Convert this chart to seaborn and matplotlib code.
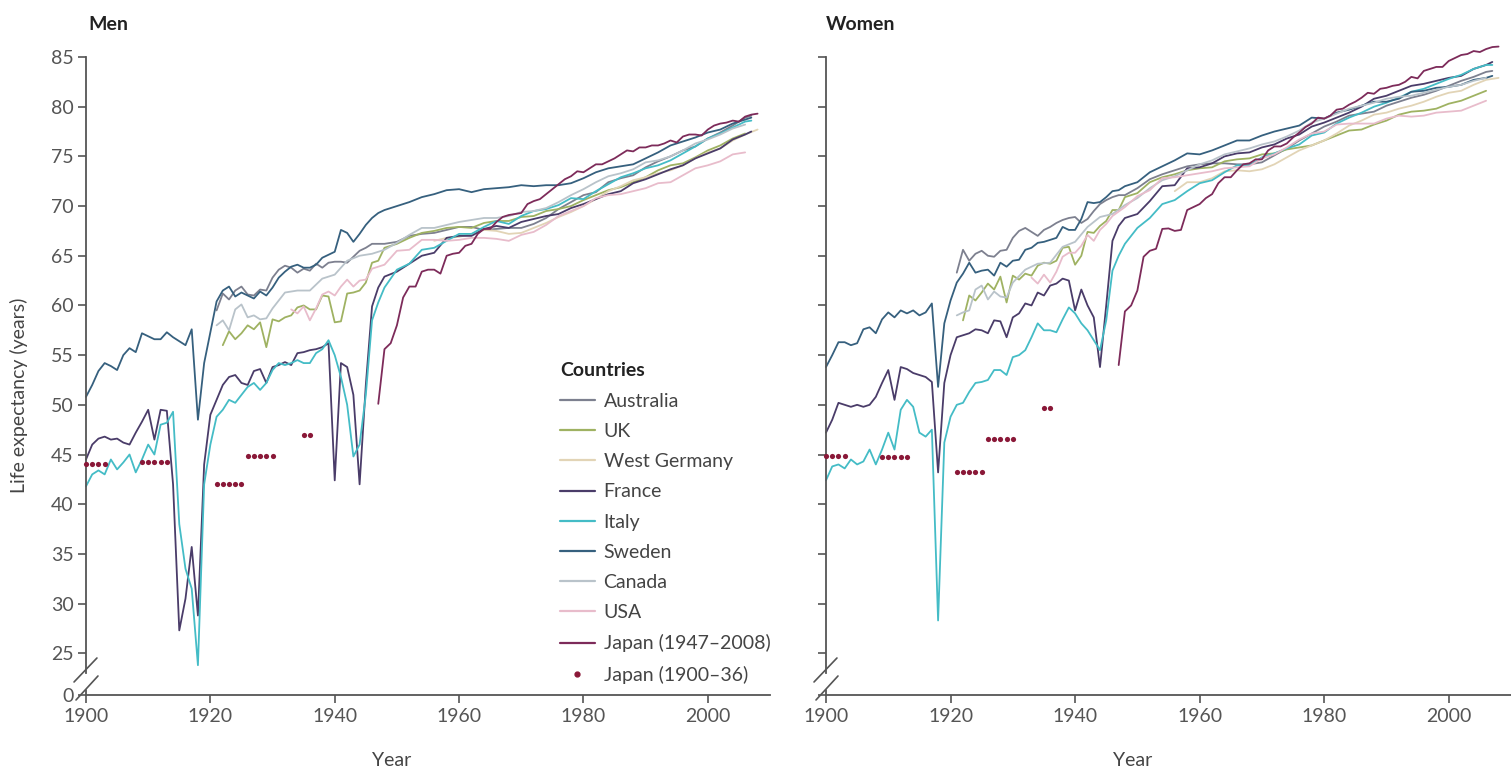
"""
Life expectancy at birth, men and women, nine countries 1900-2008.
"""
import numpy as np
import pandas as pd
import matplotlib
matplotlib.use("Agg")
import matplotlib.pyplot as plt
from matplotlib.lines import Line2D
import seaborn as sns

# ---------------------------------------------------------------- data
# year grids (shared by men and women)
LONG_YEARS = [1900, 1901, 1902, 1903, 1904, 1905, 1906, 1907, 1908, 1909,
              1910, 1911, 1912, 1913, 1914, 1915, 1916, 1917, 1918, 1919,
              1920, 1921, 1922, 1923, 1924, 1925, 1926, 1927, 1928, 1929,
              1930, 1931, 1932, 1933, 1934, 1935, 1936, 1937, 1938, 1939,
              1940, 1941, 1942, 1943, 1944, 1945, 1946, 1947, 1948,
              1950, 1952, 1954, 1956, 1958, 1960, 1962, 1964, 1966, 1968,
              1970, 1972, 1974, 1976, 1978, 1980, 1982, 1984, 1986, 1988,
              1990, 1992, 1994, 1996, 1998, 2000, 2002, 2004, 2006, 2007]
AUS_YEARS = [1921, 1922, 1923, 1924, 1925, 1926, 1927, 1928, 1929,
             1930, 1931, 1932, 1933, 1934, 1935, 1936, 1937, 1938, 1939,
             1940, 1941, 1942, 1943, 1944, 1945, 1946, 1947, 1948,
             1950, 1952, 1954, 1956, 1958, 1960, 1962, 1964, 1966, 1968,
             1970, 1972, 1974, 1976, 1978, 1980, 1982, 1984, 1986, 1988,
             1990, 1992, 1994, 1996, 1998, 2000, 2002, 2004, 2006, 2007]
UK_YEARS = [1922, 1923, 1924, 1925, 1926, 1927, 1928, 1929,
            1930, 1931, 1932, 1933, 1934, 1935, 1936, 1937, 1938, 1939,
            1940, 1941, 1942, 1943, 1944, 1945, 1946, 1947, 1948,
            1950, 1952, 1954, 1956, 1958, 1960, 1962, 1964, 1966, 1968,
            1970, 1972, 1974, 1976, 1978, 1980, 1982, 1984, 1986, 1988,
            1990, 1992, 1994, 1996, 1998, 2000, 2002, 2004, 2006]
CAN_YEARS = [1921, 1922, 1923, 1924, 1925, 1926, 1927, 1928, 1929, 1930,
             1932, 1934, 1936, 1938, 1940, 1942, 1944, 1946, 1948,
             1950, 1952, 1954, 1956, 1958, 1960, 1962, 1964, 1966, 1968,
             1970, 1972, 1974, 1976, 1978, 1980, 1982, 1984, 1986, 1988,
             1990, 1992, 1994, 1996, 1998, 2000, 2002, 2004, 2006]
USA_YEARS = [1933, 1934, 1935, 1936, 1937, 1938, 1939, 1940, 1941, 1942,
             1943, 1944, 1945, 1946, 1948,
             1950, 1952, 1954, 1956, 1958, 1960, 1962, 1964, 1966, 1968,
             1970, 1972, 1974, 1976, 1978, 1980, 1982, 1984, 1986, 1988,
             1990, 1992, 1994, 1996, 1998, 2000, 2002, 2004, 2006]
WG_YEARS = [1956, 1958, 1960, 1962, 1964, 1966, 1968,
            1970, 1972, 1974, 1976, 1978, 1980, 1982, 1984, 1986, 1988,
            1990, 1992, 1994, 1996, 1998, 2000, 2002, 2004, 2006, 2008]
JPN_YEARS = [1947, 1948, 1949,
             1950, 1951, 1952, 1953, 1954, 1955, 1956, 1957, 1958, 1959,
             1960, 1961, 1962, 1963, 1964, 1965, 1966, 1967, 1968, 1969,
             1970, 1971, 1972, 1973, 1974, 1975, 1976, 1977, 1978, 1979,
             1980, 1981, 1982, 1983, 1984, 1985, 1986, 1987, 1988, 1989,
             1990, 1991, 1992, 1993, 1994, 1995, 1996, 1997, 1998, 1999,
             2000, 2001, 2002, 2003, 2004, 2005, 2006, 2007, 2008]

# ---- men
SWE_M = [50.8, 52.0, 53.4, 54.2, 53.9, 53.5, 55.0, 55.7, 55.3, 57.2,
         56.9, 56.6, 56.6, 57.3, 56.8, 56.4, 56.0, 57.6, 48.5, 54.2,
         57.3, 60.4, 61.5, 61.9, 60.9, 61.3, 61.0, 60.7, 61.4, 61.0,
         61.8, 62.8, 63.4, 63.9, 64.1, 63.8, 63.8, 64.1, 64.8, 65.1,
         65.4, 67.6, 67.3, 66.4, 67.2, 68.1, 68.8, 69.3, 69.6,
         70.0, 70.4, 70.9, 71.2, 71.6, 71.7, 71.4, 71.7, 71.8, 71.9,
         72.1, 72.0, 72.1, 72.1, 72.3, 72.8, 73.4, 73.8, 74.0, 74.2,
         74.8, 75.4, 76.1, 76.5, 76.9, 77.4, 77.7, 78.3, 78.7, 78.9]
FRA_M = [44.5, 46.0, 46.6, 46.8, 46.5, 46.6, 46.2, 46.0, 47.2, 48.3,
         49.5, 46.5, 49.5, 49.4, 42.0, 27.3, 30.5, 35.7, 28.8, 44.0,
         49.0, 50.5, 52.0, 52.8, 53.0, 52.2, 52.0, 53.4, 53.6, 52.2,
         53.8, 54.0, 54.3, 54.0, 55.2, 55.3, 55.5, 55.6, 55.8, 56.2,
         42.4, 54.2, 53.8, 51.0, 42.0, 52.0, 59.9, 61.8, 62.9,
         63.4, 64.2, 65.0, 65.3, 66.8, 67.0, 67.0, 67.7, 68.0, 67.8,
         68.4, 68.7, 69.0, 69.2, 69.8, 70.2, 70.7, 71.2, 71.5, 72.3,
         72.7, 73.2, 73.7, 74.1, 74.8, 75.3, 75.8, 76.7, 77.2, 77.5]
ITA_M = [41.8, 43.0, 43.4, 43.0, 44.5, 43.5, 44.2, 45.0, 43.2, 44.5,
         46.0, 45.0, 48.0, 48.2, 49.3, 38.0, 33.5, 31.5, 23.8, 42.0,
         46.0, 48.8, 49.5, 50.5, 50.2, 51.0, 51.8, 52.2, 51.5, 52.2,
         53.5, 54.2, 54.0, 54.2, 54.5, 54.2, 54.2, 55.2, 55.6, 56.5,
         55.0, 52.8, 50.0, 44.8, 46.0, 51.0, 58.5, 60.3, 61.8,
         63.6, 64.2, 65.6, 65.8, 66.5, 67.2, 67.2, 67.9, 68.5, 68.2,
         69.0, 69.5, 69.7, 70.1, 70.8, 70.7, 71.5, 72.2, 72.9, 73.3,
         73.8, 74.1, 74.6, 75.3, 76.0, 76.8, 77.3, 77.9, 78.5, 78.6]
AUS_M = [59.5, 61.2, 60.6, 61.5, 61.9, 61.1, 61.0, 61.6, 61.5,
         62.8, 63.6, 64.0, 63.8, 63.3, 63.7, 63.5, 64.2, 63.8, 64.3,
         64.4, 64.4, 64.3, 64.9, 65.5, 65.8, 66.2, 66.2, 66.2,
         66.4, 67.0, 67.2, 67.3, 67.6, 67.9, 67.9, 67.6, 67.7, 67.8,
         67.8, 68.2, 68.8, 69.7, 70.4, 71.1, 71.4, 72.4, 72.8, 73.1,
         73.9, 74.5, 75.0, 75.6, 76.0, 76.8, 77.4, 78.1, 78.9, 79.1]
UK_M = [56.0, 57.4, 56.6, 57.2, 58.0, 57.6, 58.3, 55.8,
        58.6, 58.4, 58.8, 59.0, 59.8, 60.0, 59.6, 59.6, 61.0, 60.9,
        58.3, 58.4, 61.2, 61.3, 61.5, 62.3, 64.3, 64.5, 65.8,
        66.2, 66.8, 67.3, 67.5, 67.8, 67.9, 67.8, 68.3, 68.5, 68.5,
        68.9, 69.0, 69.5, 69.7, 70.0, 70.6, 71.1, 71.6, 71.9, 72.4,
        72.9, 73.6, 74.1, 74.3, 74.9, 75.6, 76.1, 76.8, 77.3]
CAN_M = [58.0, 58.5, 57.5, 59.6, 60.1, 58.8, 59.0, 58.6, 58.7, 59.7,
         61.3, 61.5, 61.5, 62.7, 63.1, 64.5, 65.0, 65.2, 65.6,
         66.3, 67.1, 67.8, 67.8, 68.1, 68.4, 68.6, 68.8, 68.8, 69.0,
         69.4, 69.5, 69.8, 70.4, 71.1, 71.7, 72.4, 73.0, 73.3, 73.7,
         74.4, 74.6, 75.0, 75.6, 76.3, 76.7, 77.2, 77.8, 78.2]
USA_M = [59.6, 59.2, 59.9, 58.5, 59.7, 61.1, 61.4, 61.0, 61.9, 62.6,
         61.9, 62.5, 62.6, 63.7, 64.1,
         65.5, 65.6, 66.6, 66.6, 66.5, 66.6, 66.8, 66.8, 66.7, 66.5,
         67.1, 67.4, 68.1, 69.0, 69.5, 70.0, 70.8, 71.1, 71.2, 71.5,
         71.8, 72.3, 72.4, 73.1, 73.8, 74.1, 74.5, 75.2, 75.4]
WG_M = [66.5, 66.8, 66.9, 67.2, 67.6, 67.5, 67.2,
        67.3, 67.8, 68.3, 68.9, 69.4, 70.0, 70.7, 71.5, 72.0, 72.6,
        72.9, 73.3, 73.6, 74.1, 74.8, 75.4, 75.8, 76.6, 77.2, 77.7]
JPN_M = [50.1, 55.6, 56.2,
         58.0, 60.8, 61.9, 61.9, 63.4, 63.6, 63.6, 63.2, 65.0, 65.2,
         65.3, 66.0, 66.2, 67.2, 67.7, 67.7, 68.4, 68.9, 69.1, 69.2,
         69.3, 70.2, 70.5, 70.7, 71.2, 71.7, 72.2, 72.7, 73.0, 73.5,
         73.4, 73.8, 74.2, 74.2, 74.5, 74.8, 75.2, 75.6, 75.5, 75.9,
         75.9, 76.1, 76.1, 76.3, 76.6, 76.4, 77.0, 77.2, 77.2, 77.1,
         77.7, 78.1, 78.3, 78.4, 78.6, 78.5, 79.0, 79.2, 79.3]

# ---- women
SWE_F = [53.8, 55.0, 56.3, 56.3, 56.0, 56.2, 57.6, 57.8, 57.2, 58.6,
         59.3, 58.8, 59.5, 59.2, 59.5, 59.0, 59.3, 60.2, 51.8, 58.2,
         60.5, 62.3, 63.2, 64.3, 63.3, 63.5, 63.6, 63.0, 64.3, 63.9,
         64.5, 64.6, 65.6, 65.8, 66.3, 66.4, 66.6, 66.8, 67.9, 67.6,
         67.6, 68.7, 70.4, 70.3, 70.4, 70.9, 71.5, 71.6, 72.0,
         72.4, 73.4, 74.0, 74.6, 75.3, 75.2, 75.6, 76.1, 76.6, 76.6,
         77.1, 77.5, 77.8, 78.1, 78.9, 78.8, 79.4, 79.7, 80.1, 80.5,
         80.5, 80.8, 81.5, 81.6, 81.9, 82.0, 82.2, 82.7, 82.9, 83.1]
FRA_F = [47.2, 48.5, 50.2, 50.0, 49.8, 50.0, 49.8, 50.0, 50.8, 52.2,
         53.5, 50.5, 53.8, 53.6, 53.2, 53.0, 52.8, 52.3, 43.2, 52.2,
         55.0, 56.8, 57.0, 57.2, 57.6, 57.5, 57.2, 58.5, 58.4, 56.8,
         58.8, 59.2, 60.2, 60.0, 61.3, 61.0, 62.0, 62.2, 62.7, 62.5,
         59.5, 61.6, 60.0, 58.8, 53.8, 60.0, 66.5, 68.0, 68.8,
         69.2, 70.5, 72.0, 72.1, 73.8, 73.9, 74.3, 75.0, 75.3, 75.4,
         75.9, 76.2, 76.8, 77.2, 78.0, 78.4, 78.9, 79.4, 80.0, 80.8,
         81.1, 81.6, 82.1, 82.3, 82.6, 82.9, 83.1, 83.8, 84.2, 84.5]
ITA_F = [42.4, 43.8, 44.0, 43.6, 44.5, 44.0, 44.3, 45.5, 44.0, 45.5,
         47.2, 45.5, 49.5, 50.5, 49.8, 47.2, 46.8, 47.5, 28.3, 46.2,
         48.8, 50.0, 50.2, 51.3, 52.2, 52.3, 52.5, 53.5, 53.5, 53.0,
         54.8, 55.0, 55.5, 56.8, 58.2, 57.5, 57.5, 57.3, 58.6, 59.8,
         59.2, 58.2, 57.5, 56.5, 55.5, 58.5, 63.5, 65.0, 66.2,
         67.8, 68.8, 70.2, 70.6, 71.5, 72.3, 72.6, 73.4, 74.1, 74.1,
         74.9, 75.3, 75.8, 76.2, 77.1, 77.4, 78.3, 78.9, 79.4, 80.0,
         80.4, 80.9, 81.5, 81.8, 82.3, 82.8, 83.2, 83.8, 84.2, 84.2]
AUS_F = [63.3, 65.6, 64.5, 65.2, 65.5, 65.0, 64.9, 65.5, 65.6,
         66.8, 67.5, 67.8, 67.4, 67.0, 67.6, 67.9, 68.3, 68.6, 68.8,
         68.9, 68.3, 68.7, 69.5, 70.2, 70.6, 70.9, 71.1, 71.1,
         71.8, 72.7, 73.2, 73.6, 74.0, 74.2, 74.3, 74.3, 74.2, 74.2,
         74.4, 75.1, 75.8, 76.6, 77.3, 78.0, 78.5, 79.1, 79.3, 79.5,
         80.1, 80.5, 80.9, 81.2, 81.6, 82.1, 82.6, 83.0, 83.5, 83.6]
UK_F = [58.5, 61.0, 60.5, 61.3, 62.2, 61.6, 62.9, 60.3,
        63.0, 62.6, 63.2, 63.0, 64.0, 64.3, 64.2, 64.5, 65.8, 65.9,
        64.1, 65.0, 67.4, 67.3, 68.0, 68.5, 69.6, 69.6, 70.9,
        71.3, 72.4, 72.9, 73.2, 73.6, 73.8, 73.9, 74.5, 74.7, 74.8,
        75.2, 75.3, 75.7, 75.9, 76.1, 76.6, 77.1, 77.6, 77.7, 78.2,
        78.6, 79.2, 79.5, 79.6, 79.8, 80.3, 80.6, 81.1, 81.6]
CAN_F = [59.0, 59.3, 59.5, 61.6, 62.0, 60.6, 61.4, 60.9, 60.8, 62.3,
         63.6, 64.2, 64.3, 65.9, 66.4, 67.9, 68.9, 69.2, 70.1,
         70.8, 71.8, 72.6, 73.0, 73.6, 74.2, 74.6, 75.2, 75.5, 75.8,
         76.2, 76.5, 77.0, 77.6, 78.4, 78.8, 79.3, 79.8, 80.1, 80.4,
         80.8, 81.0, 81.1, 81.4, 81.7, 82.0, 82.2, 82.6, 82.9]
USA_F = [62.8, 62.2, 63.1, 62.3, 63.4, 64.9, 65.3, 65.3, 66.0, 67.1,
         66.5, 67.6, 68.2, 69.0, 69.9,
         71.0, 71.6, 72.8, 72.9, 73.1, 73.3, 73.5, 73.8, 73.9, 74.0,
         74.8, 75.2, 75.9, 76.7, 77.3, 77.5, 78.2, 78.3, 78.3, 78.3,
         78.8, 79.1, 79.0, 79.1, 79.4, 79.5, 79.6, 80.1, 80.6]
WG_F = [71.5, 72.4, 72.4, 72.8, 73.5, 73.6, 73.5,
        73.7, 74.2, 74.9, 75.6, 76.1, 76.6, 77.3, 78.1, 78.6, 79.2,
        79.4, 79.8, 80.1, 80.5, 81.0, 81.4, 81.6, 82.2, 82.7, 82.9]
JPN_F = [54.0, 59.4, 60.0,
         61.5, 64.9, 65.5, 65.7, 67.7, 67.75, 67.5, 67.6, 69.6, 69.9,
         70.2, 70.8, 71.2, 72.3, 72.9, 72.9, 73.6, 74.2, 74.3, 74.7,
         74.7, 75.6, 76.0, 76.0, 76.3, 76.9, 77.4, 77.95, 78.3, 78.9,
         78.8, 79.1, 79.7, 79.8, 80.2, 80.5, 80.9, 81.4, 81.3, 81.8,
         81.9, 82.1, 82.2, 82.5, 83.0, 82.85, 83.6, 83.8, 84.0, 84.0,
         84.6, 84.9, 85.2, 85.3, 85.6, 85.5, 85.8, 86.0, 86.05]

# Japan 1900-36: abridged life tables, one value per period
JP_OLD_PERIODS = [(1900, 1903), (1909, 1913), (1921, 1925), (1926, 1930), (1935, 1936)]
JP_OLD_M = [44.0, 44.25, 42.06, 44.82, 46.92]
JP_OLD_F = [44.85, 44.73, 43.20, 46.54, 49.63]

COUNTRIES = ["Australia", "UK", "West Germany", "France", "Italy",
             "Sweden", "Canada", "USA", "Japan (1947–2008)"]
COLORS = ["#7d808f", "#9fb262", "#e2d4b6", "#4a3c69", "#44bcc6",
          "#36607e", "#b9c3ca", "#e8bccb", "#7d2b5a"]
DOT_COLOR = "#8a1838"

years_of = {"Australia": AUS_YEARS, "UK": UK_YEARS, "West Germany": WG_YEARS,
            "France": LONG_YEARS, "Italy": LONG_YEARS, "Sweden": LONG_YEARS,
            "Canada": CAN_YEARS, "USA": USA_YEARS, "Japan (1947–2008)": JPN_YEARS}
men = {"Australia": AUS_M, "UK": UK_M, "West Germany": WG_M, "France": FRA_M,
       "Italy": ITA_M, "Sweden": SWE_M, "Canada": CAN_M, "USA": USA_M,
       "Japan (1947–2008)": JPN_M}
women = {"Australia": AUS_F, "UK": UK_F, "West Germany": WG_F, "France": FRA_F,
         "Italy": ITA_F, "Sweden": SWE_F, "Canada": CAN_F, "USA": USA_F,
         "Japan (1947–2008)": JPN_F}


def long_frame(values):
    parts = [pd.DataFrame({"year": years_of[c], "e0": values[c], "country": c})
             for c in COUNTRIES]
    return pd.concat(parts, ignore_index=True)


def dots_frame(vals):
    rows = []
    for (a, b), v in zip(JP_OLD_PERIODS, vals):
        for y in range(a, b + 1):
            rows.append((y, v))
    return pd.DataFrame(rows, columns=["year", "e0"])


# ---------------------------------------------------------------- style
sns.set_style("ticks")
plt.rcParams.update({
    "font.family": ["Lato", "DejaVu Sans"],
    "axes.edgecolor": "#555555", "axes.linewidth": 1.3,
    "xtick.color": "#555555", "ytick.color": "#555555",
    "xtick.labelcolor": "#555555", "ytick.labelcolor": "#555555",
    "xtick.major.size": 6, "ytick.major.size": 6,
    "xtick.major.width": 1.2, "ytick.major.width": 1.2,
    "xtick.labelsize": 14, "ytick.labelsize": 14,
})

W, H = 1511, 776
fig = plt.figure(figsize=(W / 100, H / 100), dpi=100)
ax_m = fig.add_axes([86 / W, 1 - 695 / H, 684 / W, 638 / H])
ax_w = fig.add_axes([826 / W, 1 - 695 / H, 685 / W, 638 / H])

YMIN, YMAX = 20.8, 85
palette = dict(zip(COUNTRIES, COLORS))

for ax, vals, old in [(ax_m, men, JP_OLD_M), (ax_w, women, JP_OLD_F)]:
    sns.lineplot(data=long_frame(vals), x="year", y="e0", hue="country",
                 hue_order=COUNTRIES, palette=palette, estimator=None,
                 linewidth=1.3, legend=False, ax=ax)
    for ln in ax.lines:
        ln.set_clip_on(False)
    sns.scatterplot(data=dots_frame(old), x="year", y="e0", color=DOT_COLOR,
                    s=14, linewidth=0, legend=False, ax=ax, zorder=5,
                    clip_on=False)

    ax.set_xlim(1900, 2010)
    ax.set_ylim(YMIN, YMAX)
    ax.set_xticks([1900, 1920, 1940, 1960, 1980, 2000])
    ax.set_yticks([YMIN, 25, 30, 35, 40, 45, 50, 55, 60, 65, 70, 75, 80, 85])
    ax.tick_params(pad=3)
    sns.despine(ax=ax)
    ax.spines["left"].set_bounds(23.0, YMAX)
    # broken axis marks
    ax.plot([0, 0], [0, 0.008], transform=ax.transAxes, color="#555555",
            lw=1.3, clip_on=False)
    for x0, y0, x1, y1 in [(-0.0175, 0.0204, 0.016, 0.058),
                           (-0.0146, -0.0078, 0.0175, 0.0298)]:
        ax.plot([x0, x1], [y0, y1], transform=ax.transAxes,
                color="#555555", lw=1.2, clip_on=False)
    ax.set_xlabel("Year", fontsize=14, color="#444444")
    ax.xaxis.set_label_coords(0.447, -0.09)
    ax.set_ylabel("")

ax_m.set_yticklabels(["0", "25", "30", "35", "40", "45", "50", "55", "60",
                      "65", "70", "75", "80", "85"])
ax_w.set_yticklabels([])
ax_m.set_ylabel("Life expectancy (years)", fontsize=14, color="#444444")
ax_m.yaxis.set_label_coords(-0.085, 0.47)

fig.text(88 / W, 1 - 25 / H, "Men", fontsize=14, fontweight="bold",
         color="#222222", va="center", ha="left")
fig.text(826 / W, 1 - 25 / H, "Women", fontsize=14, fontweight="bold",
         color="#222222", va="center", ha="left")

# legend
handles = [Line2D([], [], color=c, lw=1.6) for c in COLORS]
handles.append(Line2D([], [], color=DOT_COLOR, lw=0, marker="o", markersize=3.5))
labels = COUNTRIES + ["Japan (1900–36)"]
leg = ax_m.legend(handles, labels, title="Countries", loc="upper left",
                  bbox_to_anchor=(0.68, 0.535), frameon=False, fontsize=14,
                  title_fontsize=14, alignment="left", handlelength=1.8,
                  handletextpad=0.45, labelspacing=0.68, borderpad=0.45,
                  borderaxespad=0)
leg.get_title().set_fontweight("bold")
leg.get_title().set_color("#222222")
for t in leg.get_texts():
    t.set_color("#444444")

fig.savefig("out.png", dpi=100)
print("saved")
